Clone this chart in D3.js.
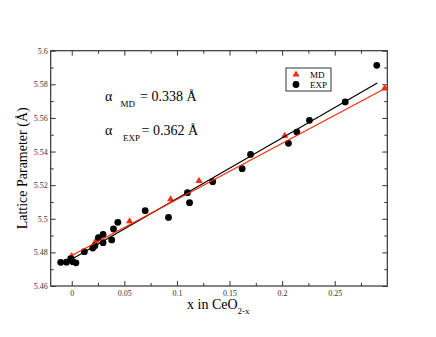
<!DOCTYPE html>
<html>
<head>
<meta charset="utf-8">
<script src="https://cdn.jsdelivr.net/npm/d3@7"></script>
<style>
	body { margin: 0; background: #fff; }
	svg { display: block; font-family: 'Liberation Serif', 'Times New Roman', serif; }
	.tick text { fill: #333; }
</style>
</head>
<body>
<div id="chart"></div>
<script>
// experimental lattice parameters
const expX = [-0.0105, -0.005, -0.001, 0.001, 0.004, 0.012, 0.020, 0.022, 0.0254, 0.0298, 0.0298, 0.038, 0.0397, 0.0438, 0.0698, 0.092, 0.110, 0.112, 0.134, 0.162, 0.170, 0.206, 0.214, 0.226, 0.260, 0.290]
const expY = [5.4741, 5.4742, 5.4762, 5.4745, 5.4738, 5.4804, 5.4826, 5.484, 5.4888, 5.4907, 5.4858, 5.4874, 5.4939, 5.4979, 5.5048, 5.5008, 5.5155, 5.5096, 5.5221, 5.5298, 5.5383, 5.5449, 5.5516, 5.5586, 5.5695, 5.5913]

// MD lattice parameters
const mdX = [0, 0.023, 0.055, 0.094, 0.121, 0.2025, 0.2975]
const mdY = [5.4778, 5.487, 5.4985, 5.5116, 5.5225, 5.5494, 5.5776]

// linear fits (end points)
const mdFitX = [0, 0.3]
const mdFitY = [5.4782, 5.5782]
const expFitX = [0, 0.2905]
const expFitY = [5.4759, 5.5808]

const xTicks = [0, 0.05, 0.1, 0.15, 0.2, 0.25]
const xMinor = [0.025, 0.075, 0.125, 0.175, 0.225, 0.275]
const yTicks = [5.46, 5.48, 5.5, 5.52, 5.54, 5.56, 5.58, 5.6]
const yMinor = [5.47, 5.49, 5.51, 5.53, 5.55, 5.57, 5.59]

const width = 436
const height = 337
const margin = { top: 50.7, right: 48.7, bottom: 51, left: 50.7 }
const red = '#ff2a0a'

const svg = d3
	.select('#chart')
	.append('svg')
	.attr('width', width)
	.attr('height', height)

const x = d3
	.scaleLinear()
	.domain([-0.02, 0.3])
	.range([margin.left, width - margin.right])

const y = d3
	.scaleLinear()
	.domain([5.46, 5.6])
	.range([height - margin.bottom, margin.top])

const fmt = d => String(+d.toFixed(3))

// axes with inward ticks on all sides
function axes() {
	const bottom = svg.append('g').attr('transform', `translate(0,${y.range()[0]})`)
	bottom.call(d3.axisBottom(x).tickValues(xTicks).tickFormat(fmt).tickSize(-5).tickPadding(4.5))
	bottom.append('g').call(d3.axisBottom(x).tickValues(xMinor).tickFormat('').tickSize(-3))

	const top = svg.append('g').attr('transform', `translate(0,${y.range()[1]})`)
	top.call(d3.axisTop(x).tickValues(xTicks).tickFormat('').tickSize(-5))
	top.append('g').call(d3.axisTop(x).tickValues(xMinor).tickFormat('').tickSize(-3))

	const left = svg.append('g').attr('transform', `translate(${x.range()[0]},0)`)
	left.call(d3.axisLeft(y).tickValues(yTicks).tickFormat(fmt).tickSize(-5).tickPadding(3))
	left.append('g').call(d3.axisLeft(y).tickValues(yMinor).tickFormat('').tickSize(-3))

	const right = svg.append('g').attr('transform', `translate(${x.range()[1]},0)`)
	right.call(d3.axisRight(y).tickValues(yTicks).tickFormat('').tickSize(-5))
	right.append('g').call(d3.axisRight(y).tickValues(yMinor).tickFormat('').tickSize(-3))

	svg.selectAll('.domain').remove()
	svg.selectAll('.tick line').attr('stroke', '#333')
	svg.selectAll('.tick text').attr('font-size', 8).attr('font-family', 'Liberation Serif')

	svg
		.append('rect')
		.attr('x', x.range()[0])
		.attr('y', y.range()[1])
		.attr('width', x.range()[1] - x.range()[0])
		.attr('height', y.range()[0] - y.range()[1])
		.attr('fill', 'none')
		.attr('stroke', '#333')
		.attr('stroke-width', 1.2)
}

axes()

const line = d3
	.line()
	.x(d => x(d[0]))
	.y(d => y(d[1]))

const plot = svg.append('g')

// triangles first, circles drawn over them
const tri = d3.symbol().type(d3.symbolTriangle).size(22)

plot
	.selectAll('path.md')
	.data(d3.zip(mdX, mdY))
	.enter()
	.append('path')
	.classed('md', true)
	.attr('d', tri)
	.attr('transform', d => `translate(${x(d[0])},${y(d[1])})`)
	.attr('fill', red)

plot
	.selectAll('circle')
	.data(d3.zip(expX, expY))
	.enter()
	.append('circle')
	.attr('cx', d => x(d[0]))
	.attr('cy', d => y(d[1]))
	.attr('r', 3.4)
	.attr('fill', '#000')

plot
	.append('path')
	.datum(d3.zip(expFitX, expFitY))
	.attr('d', line)
	.attr('fill', 'none')
	.attr('stroke', '#000')
	.attr('stroke-width', 1.2)

plot
	.append('path')
	.datum(d3.zip(mdFitX, mdFitY))
	.attr('d', line)
	.attr('fill', 'none')
	.attr('stroke', red)
	.attr('stroke-width', 1.2)

// legend
const legend = svg.append('g').attr('transform', 'translate(286,68)')
legend
	.append('rect')
	.attr('width', 45)
	.attr('height', 23)
	.attr('fill', '#fff')
	.attr('stroke', '#333')
	.attr('stroke-width', 1)
legend.append('path').attr('d', tri).attr('transform', 'translate(10,6.5)').attr('fill', red)
legend.append('circle').attr('cx', 10).attr('cy', 16.5).attr('r', 3.4).attr('fill', '#000')
legend.append('text').attr('x', 24).attr('y', 9.5).attr('font-size', 9).text('MD')
legend.append('text').attr('x', 24).attr('y', 19.5).attr('font-size', 9).text('EXP')

// annotations
function alpha(yBase, sub, subX, valueX, value) {
	const g = svg.append('g')
	g.append('text').attr('x', 105).attr('y', yBase).attr('font-size', 14).text('α')
	g.append('text').attr('x', subX).attr('y', yBase + 6).attr('font-size', 9).text(sub)
	g.append('text').attr('x', valueX).attr('y', yBase).attr('font-size', 14).text(value)
}
alpha(101, 'MD', 120.5, 140, '= 0.338 Å')
alpha(134.5, 'EXP', 123, 141.5, '= 0.362 Å')

// axis titles
const xt = svg.append('text').attr('x', 187).attr('y', 309).attr('font-size', 14)
xt.append('tspan').text('x in CeO')
xt.append('tspan').attr('font-size', 9).attr('dy', 5).text('2-x')

svg
	.append('text')
	.attr('transform', `translate(26.5,${(y.range()[0] + y.range()[1]) / 2}) rotate(-90)`)
	.attr('text-anchor', 'middle')
	.attr('font-size', 14)
	.text('Lattice Parameter (Å)')
</script>
</body>
</html>
